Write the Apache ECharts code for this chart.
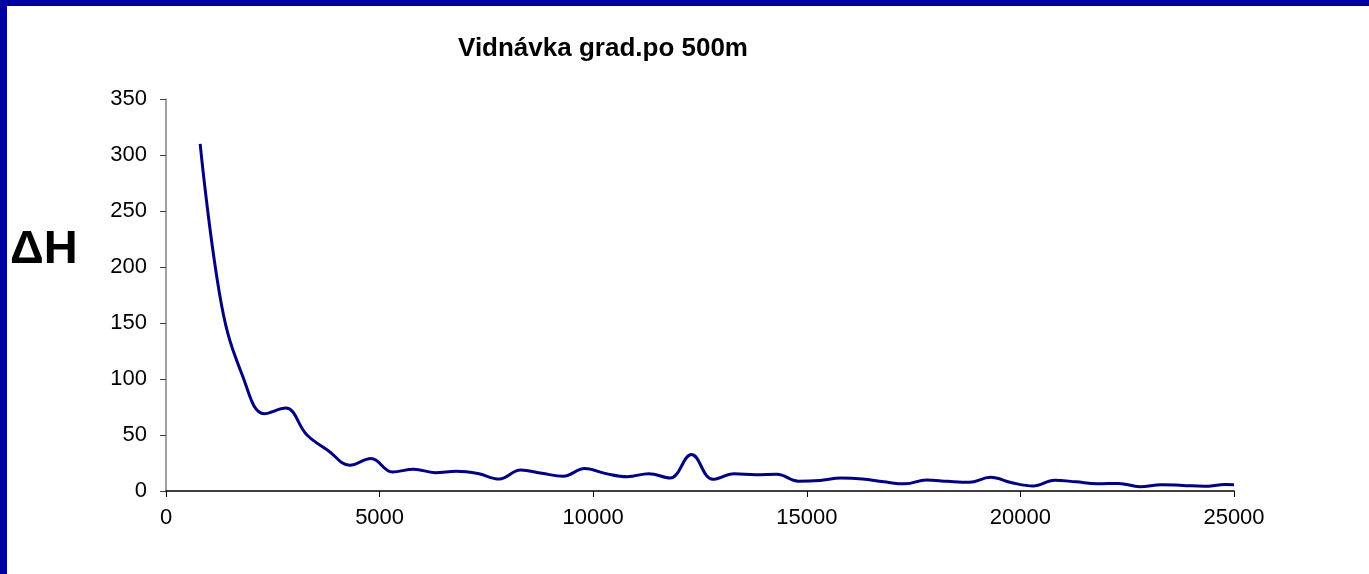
<!DOCTYPE html>
<html>
<head>
<meta charset="utf-8">
<script src="https://cdn.jsdelivr.net/npm/echarts@6/dist/echarts.min.js"></script>
<style>
  html, body { margin: 0; padding: 0; background: #fff; }
  #chart { width: 1369px; height: 574px; }
</style>
</head>
<body>
<div id="chart"></div>
<script>
// vzdalenost (m)
var distance = [800, 1300, 1800, 2300, 2800, 3300, 3800, 4300, 4800, 5300,
  5800, 6300, 6800, 7300, 7800, 8300, 8800, 9300, 9800, 10300,
  10800, 11300, 11800, 12300, 12800, 13300, 13800, 14300, 14800, 15300,
  15800, 16300, 16800, 17300, 17800, 18300, 18800, 19300, 19800, 20300,
  20800, 21300, 21800, 22300, 22800, 23300, 23800, 24300, 24800, 25000];
// prevyseni na 500 m
var deltaH = [310, 166, 102, 69, 74, 50, 36, 23, 29, 17,
  19.5, 16.4, 17.6, 15.6, 10.7, 18.7, 15.8, 13.2, 20, 15.5,
  12.8, 15.5, 11.6, 32.5, 10.4, 15.4, 14.6, 15, 8.8, 9.4,
  11.5, 10.7, 8.2, 6.4, 9.8, 8.6, 7.8, 12.2, 7.4, 4.5,
  9.6, 8.2, 6.5, 6.8, 3.9, 5.6, 5, 4.2, 5.8, 5.6];

var titleText = 'Vidnávka grad.po 500m';
var yName = 'ΔH';

var points = [];
for (var i = 0; i < distance.length; i++) {
  points.push([distance[i], deltaH[i]]);
}

var option = {
  animation: false,
  backgroundColor: '#fff',
  title: {
    text: titleText,
    left: 598,
    top: 31,
    textAlign: 'center',
    textStyle: { fontFamily: 'Arial, Liberation Sans', fontWeight: 'bold', fontSize: 26, color: '#000' }
  },
  graphic: [
    { type: 'rect', left: 0, top: 0, shape: { width: 1369, height: 6 }, style: { fill: '#0000A0' } },
    { type: 'rect', left: 0, top: 0, shape: { width: 7, height: 574 }, style: { fill: '#0000A0' } },
    {
      type: 'text', left: 10, top: 227,
      style: { text: yName, font: 'bold 47px Arial, Liberation Sans', fill: '#000' }
    }
  ],
  grid: { left: 166, right: 135, top: 99, bottom: 83 },
  xAxis: {
    type: 'value',
    min: 0,
    max: 25000,
    interval: 5000,
    axisLine: { lineStyle: { color: '#000', width: 1.5 } },
    axisTick: { length: 6, lineStyle: { color: '#000' } },
    axisLabel: {
      margin: 16, fontFamily: 'Arial, Liberation Sans', fontSize: 22, color: '#000',
      formatter: function (v) { return String(v); }
    },
    splitLine: { show: false }
  },
  yAxis: {
    type: 'value',
    min: 0,
    max: 350,
    interval: 50,
    axisLine: { show: true, lineStyle: { color: '#808080', width: 1.5 } },
    axisTick: { show: true, length: 6, lineStyle: { color: '#404040' } },
    axisLabel: { margin: 19, fontFamily: 'Arial, Liberation Sans', fontSize: 22, color: '#000' },
    splitLine: { show: false }
  },
  series: [{
    type: 'line',
    data: points,
    smooth: 0.4,
    showSymbol: false,
    lineStyle: { color: '#000080', width: 3 }
  }]
};

var myChart = echarts.init(document.getElementById('chart'));
myChart.setOption(option);
</script>
</body>
</html>
